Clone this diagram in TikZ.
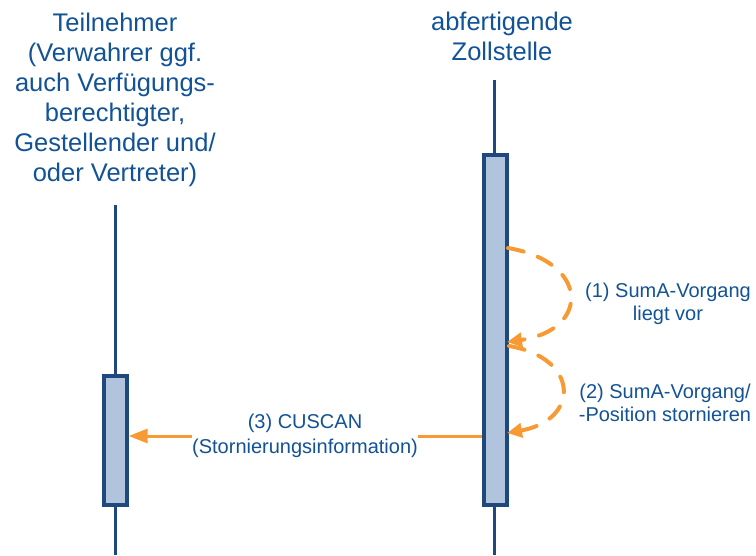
\documentclass[tikz,border=0pt]{standalone}
\usepackage{fontspec}
\setmainfont{Liberation Sans}
\usetikzlibrary{arrows.meta}
\definecolor{navy}{HTML}{1F497D}
\definecolor{txtblue}{HTML}{125296}
\definecolor{boxfill}{HTML}{B0C4DE}
\definecolor{orng}{HTML}{F79A33}
\tikzset{
  title/.style={align=center, inner sep=0pt, text=txtblue, font=\fontsize{25.5}{30}\selectfont},
  lbl/.style={align=center, inner sep=0pt, text=txtblue, font=\fontsize{20}{23}\selectfont},
  lifeline/.style={draw=navy, line width=3pt},
  actbox/.style={draw=navy, line width=3.2pt, fill=boxfill, rectangle, minimum width=23pt, inner sep=0pt},
  selfmsg/.style={draw=orng, line width=4pt, dash pattern=on 16pt off 15pt, line cap=round, -{Triangle[length=15pt,width=14pt]}},
  msg/.style={draw=orng, line width=3pt, -{Triangle[length=19pt,width=14pt]}}
}
\begin{document}
\begin{tikzpicture}[x=1pt,y=-1pt]
\useasboundingbox (0,0) rectangle (756,555);
% titles
\node[title, anchor=north] (tl) at (115,13) {Teilnehmer\\(Verwahrer ggf.\\auch Verfügungs-\\berechtigter,\\Gestellender und/\\oder Vertreter)};
\node[title, anchor=north] (tr) at (502,12) {abfertigende\\Zollstelle};
% lifelines
\coordinate (ltop) at (115,205);
\coordinate (lbot) at (115,555);
\coordinate (rtop) at (494,80);
\coordinate (rbot) at (494,555);
\draw[lifeline] (ltop) -- (lbot);
\draw[lifeline] (rtop) -- (rbot);
% activation boxes
\node[actbox, minimum height=129pt] (lbox) at (115.5,440.5) {};
\node[actbox, minimum height=350pt] (rbox) at (495.5,330) {};
% self messages
\coordinate (s1a) at (508,248);
\coordinate (s1b) at (507,342);
\coordinate (s2a) at (509,346);
\coordinate (s2b) at (507,433);
\draw[selfmsg] (s1a) .. controls (590,262) and (590,330) .. (s1b);
\draw[selfmsg] (s2a) .. controls (580,358) and (580,420) .. (s2b);
\node[lbl] (l1) at (668,304) {(1) SumA-Vorgang\\liegt vor};
\node[lbl] (l2) at (665,402.5) {(2) SumA-Vorgang/\\-Position stornieren};
% message 3
\coordinate (m3a) at (rbox.west |- 0,436);
\coordinate (m3b) at (lbox.east |- 0,436);
\draw[msg] (m3a) -- (m3b);
\node[lbl, fill=white, font=\fontsize{20}{25}\selectfont] (l3) at (305,436) {(3) CUSCAN\\(Stornierungsinformation)};
\end{tikzpicture}
\end{document}
